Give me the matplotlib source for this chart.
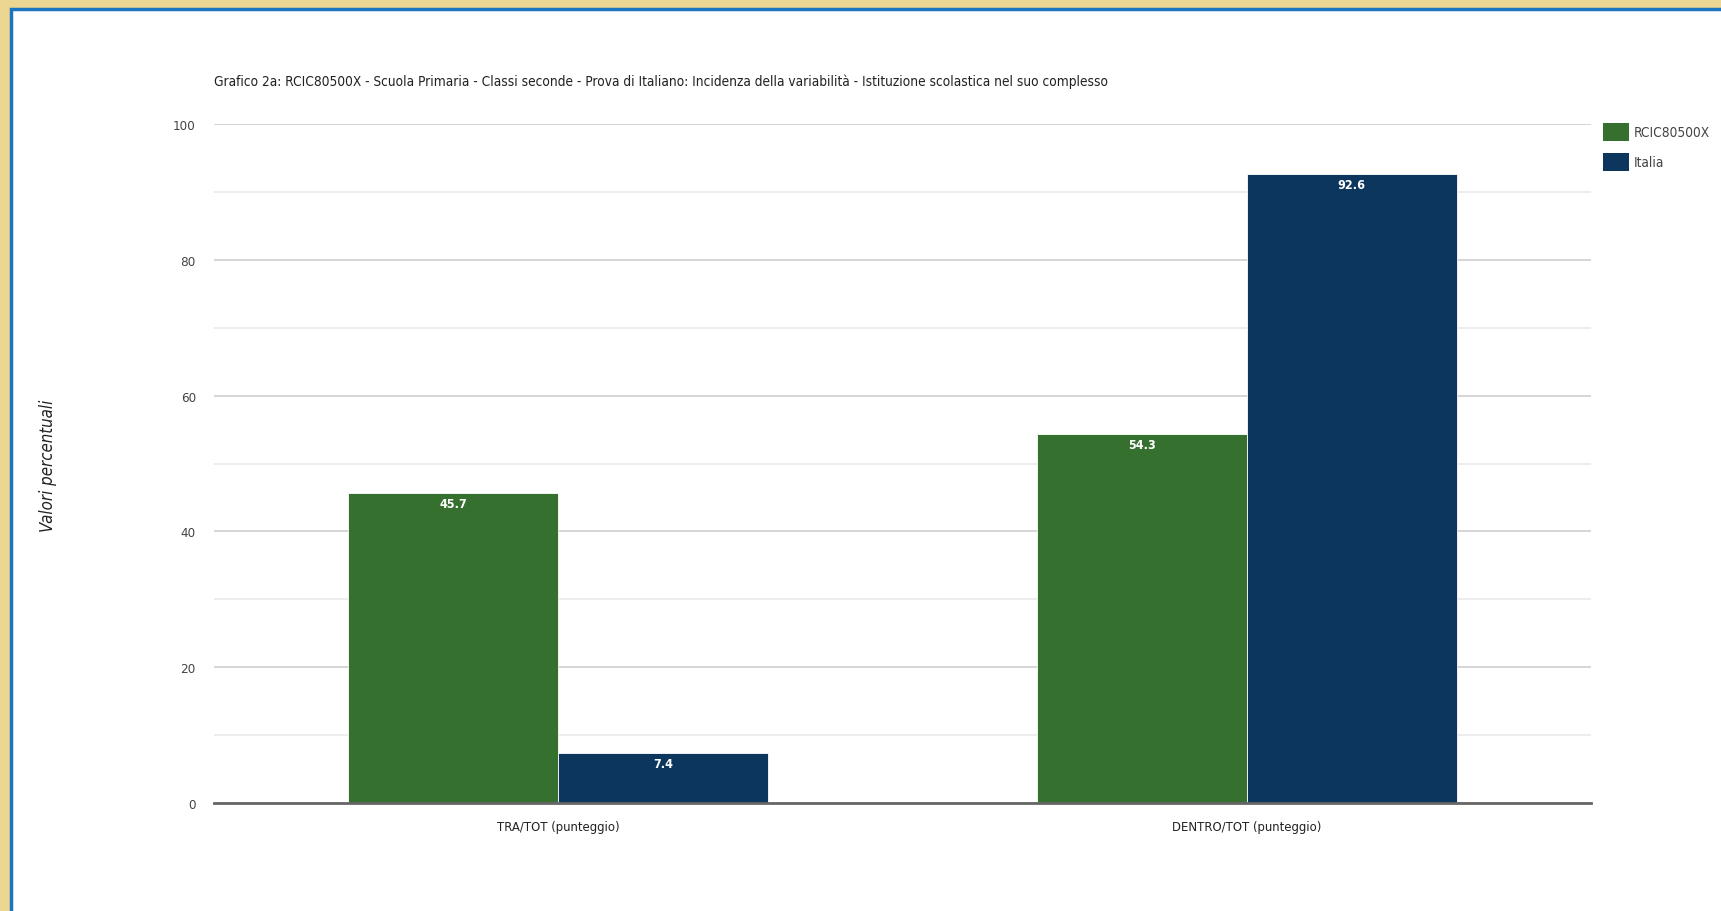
import matplotlib
matplotlib.use("Agg")
import matplotlib.pyplot as plt
from matplotlib.patches import Rectangle
from matplotlib import font_manager
import numpy as np

categories = ["TRA/TOT (punteggio)", "DENTRO/TOT (punteggio)"]
series_names = ["RCIC80500X", "Italia"]
school_vals = [45.7, 54.3]
italy_vals = [7.4, 92.6]
yticks = [0, 20, 40, 60, 80, 100]
title = ("Grafico 2a: RCIC80500X - Scuola Primaria - Classi seconde - Prova di Italiano: "
         "Incidenza della variabilità - Istituzione scolastica nel suo complesso")
ylabel = "Valori percentuali"

fonts = font_manager.fontManager.ttflist
names = {f.name for f in fonts}
stretch = "normal"
if "Liberation Sans Narrow" in names:
    fam = ["Liberation Sans Narrow", "DejaVu Sans"]
else:
    fam = ["DejaVu Sans"]
    if any(f.name == "DejaVu Sans" and f.stretch == "condensed" for f in fonts):
        stretch = "condensed"

W, H = 1721, 912
fig = plt.figure(figsize=(W / 100, H / 100), dpi=100)
fig.patch.set_facecolor("#EDD592")

panel = Rectangle((11 / W, -0.01), 1.0, 1 - 10 / H + 0.01, transform=fig.transFigure,
                  facecolor="white", edgecolor="#1B74BE", linewidth=2.5, zorder=-10)
fig.patches.append(panel)

ax = fig.add_axes([214 / W, 1 - 804 / H, (1591 - 214) / W, (804 - 125) / H])
ax.set_facecolor("none")
ax.set_zorder(1)

green = "#36702E"
blue = "#0C365E"
x = np.arange(len(categories))
w = 0.305
b1 = ax.bar(x - w / 2, school_vals, width=w, color=green, edgecolor="white",
            linewidth=0.6, zorder=3, label=series_names[0])
b2 = ax.bar(x + w / 2, italy_vals, width=w, color=blue, edgecolor="white",
            linewidth=0.6, zorder=3, label=series_names[1])

renderer = fig.canvas.get_renderer()


def fit(t, target, horizontal=True):
    t.set_fontsize(10)
    bb = t.get_window_extent(renderer=renderer)
    cur = bb.width if horizontal else bb.height
    if cur > 0:
        t.set_fontsize(10 * target / cur)


bar_texts = []
for bars, vals in ((b1, school_vals), (b2, italy_vals)):
    for r, v in zip(bars, vals):
        t = ax.annotate(f"{v:.1f}", (r.get_x() + r.get_width() / 2, v),
                        xytext=(0, -3), textcoords="offset points",
                        ha="center", va="top", color="white",
                        fontweight="bold", family=fam, fontstretch=stretch, zorder=4)
        bar_texts.append(t)

ax.set_xlim(-0.5, 1.5)
ax.set_ylim(0, 100)
ax.set_yticks(yticks)
ax.set_yticks([10, 30, 50, 70, 90], minor=True)
ax.grid(axis="y", which="major", color="#D2D2D2", linewidth=1.3, zorder=0)
ax.grid(axis="y", which="minor", color="#ECECEC", linewidth=1.3, zorder=0)
ax.tick_params(axis="y", which="both", length=0, pad=13, labelcolor="#444444")
ax.set_xticks(x)
ax.set_xticklabels(categories, color="#222222")
ax.tick_params(axis="x", length=0, pad=12)
for s in ["top", "right", "left"]:
    ax.spines[s].set_visible(False)
ax.spines["bottom"].set_color("#666666")
ax.spines["bottom"].set_linewidth(2)
ax.spines["bottom"].set_zorder(5)

fig.canvas.draw()
ylbls = ax.get_yticklabels()
for lbl in ylbls:
    lbl.set_family(fam)
    lbl.set_fontstretch(stretch)
xlbls = ax.get_xticklabels()
for lbl in xlbls:
    lbl.set_family(fam)
    lbl.set_fontstretch(stretch)

tt = fig.text(214 / W, 1 - 82 / H, title, ha="left", va="center",
              family=fam, fontstretch=stretch, color="#222222")
yl = fig.text(48 / W, 1 - 466 / H, ylabel, ha="center", va="center", rotation=90,
              style="italic", family=fam, fontstretch=stretch, color="#222222")

leg_texts = []
for i, (name, col) in enumerate(zip(series_names, [green, blue])):
    y0 = 124 + i * 30
    fig.patches.append(Rectangle((1603 / W, 1 - (y0 + 18) / H), 26 / W, 18 / H,
                                 transform=fig.transFigure, facecolor=col,
                                 edgecolor="none", zorder=3))
    lt = fig.text(1634 / W, 1 - (y0 + 9) / H, name, ha="left", va="center",
                  family=fam, fontstretch=stretch, color="#444444")
    leg_texts.append(lt)

fig.canvas.draw()
fit(tt, 890)
fit(yl, 132, horizontal=False)
fit(leg_texts[0], 76)
leg_texts[1].set_fontsize(leg_texts[0].get_fontsize())
fit(xlbls[0], 123)
xlbls[1].set_fontsize(xlbls[0].get_fontsize())
fit(ylbls[-1], 23)
for lbl in ylbls:
    lbl.set_fontsize(ylbls[-1].get_fontsize())
fit(bar_texts[0], 28)
for t in bar_texts:
    t.set_fontsize(bar_texts[0].get_fontsize())

fig.savefig("out.png", dpi=100, facecolor=fig.get_facecolor())
